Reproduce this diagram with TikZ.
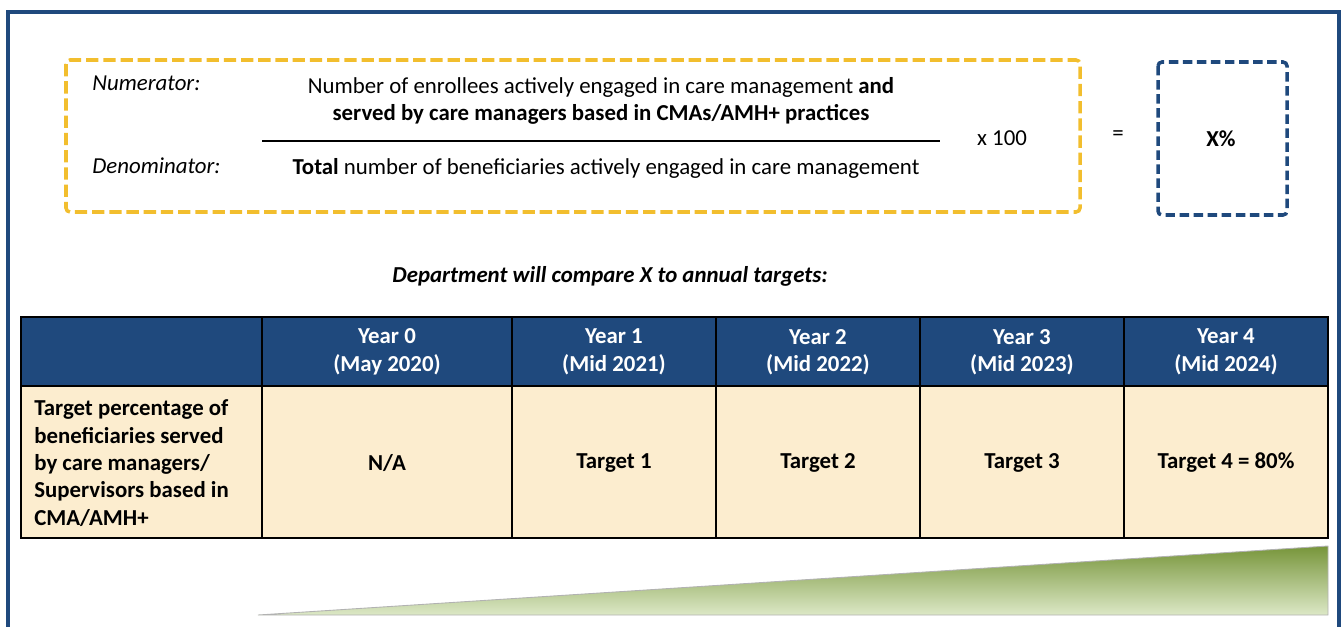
\documentclass[tikz,border=0pt]{standalone}
\usepackage{fontspec}
\setmainfont{Carlito}
\definecolor{color_frame}{HTML}{1F497D}
\definecolor{color_gold}{HTML}{F2BE2E}
\definecolor{color_head}{HTML}{1F497D}
\definecolor{color_body}{HTML}{FCEDCF}
\definecolor{color_green_dark}{HTML}{77953A}
\definecolor{color_green_light}{HTML}{DCE8C6}
\def\formulasize{\fontsize{13}{15.4}\selectfont}
\def\tablesize{\fontsize{13}{15.6}\selectfont}

\begin{document}
\begin{tikzpicture}[x=0.02cm, y=-0.02cm,
    formulatext/.style={inner sep=0pt, font=\formulasize},
    headcell/.style={inner sep=0pt, align=center, text=white, font=\tablesize\bfseries},
    bodycell/.style={inner sep=0pt, align=center, font=\tablesize\bfseries}]
        \useasboundingbox (0,0) rectangle (1342,626);
        % outer frame (runs off the bottom)
        \draw[color_frame, line width=2.2pt] (8,640) -- (8,12) -- (1339,12) -- (1339,640);

        % formula boxes
        \draw[color_gold, line width=2pt, dash pattern=on 7pt off 2.8pt, rounded corners=0.8mm] (66,60) rectangle (1080,212);
        \draw[color_frame, line width=2pt, dash pattern=on 5.4pt off 2.6pt, rounded corners=0.8mm] (1158,62) rectangle (1287,215);

        \node[formulatext, anchor=west, font=\formulasize\itshape] (numlabel) at (92,83) {Numerator:};
        \node[formulatext, anchor=west, font=\formulasize\itshape] (denlabel) at (92,166) {Denominator:};
        \node[formulatext, align=center] (numtext) at (601,101) {Number of enrollees actively engaged in care management \textbf{and}\\\textbf{served by care managers based in CMAs/AMH+ practices}};
        \draw[line width=0.6pt] (262,141) -- (940,141);
        \node[formulatext] (dentext) at (606,168) {\textbf{Total} number of beneficiaries actively engaged in care management};
        \node[formulatext] (times) at (1002,138) {x 100};
        \node[formulatext] (equals) at (1118,136) {=};
        \node[formulatext, font=\formulasize\bfseries] (result) at (1221,139) {X\%};

        \node[formulatext, font=\formulasize\bfseries\itshape] (compare) at (610,276) {Department will compare X to annual targets:};

        % table fills
        \fill[color_head] (21,317) rectangle (1328,386);
        \fill[color_body] (21,386) rectangle (1328,538);
        \draw[line width=1.1pt] (21,317) rectangle (1328,538);
        \draw[line width=1.1pt] (21,386) -- (1328,386);
        \foreach \x in {262,512,716,920,1124}
            \draw[line width=1.1pt] (\x,317) -- (\x,538);

        % header and target cells
        \foreach \i/\cx/\when/\goal in {0/387/May 2020/{N/A}, 1/614/Mid 2021/Target 1, 2/818/Mid 2022/Target 2, 3/1022/Mid 2023/Target 3, 4/1226/Mid 2024/Target 4 = 80\%}
        {
            \node[headcell] (head\i) at (\cx,352) {Year \i\\(\when)};
            \node[bodycell] (goal\i) at (\cx,463) {\goal};
        }
        \node[bodycell, anchor=west, align=left] (rowlabel) at (34,463) {Target percentage of\\beneficiaries served\\by care managers/\\Supervisors based in\\CMA/AMH+};

        % rising wedge
        \shade[top color=color_green_dark, bottom color=color_green_light, draw=gray!60, line width=0.5pt] (258,615) -- (1328,546) -- (1328,615) -- cycle;
    \end{tikzpicture}
\end{document}
